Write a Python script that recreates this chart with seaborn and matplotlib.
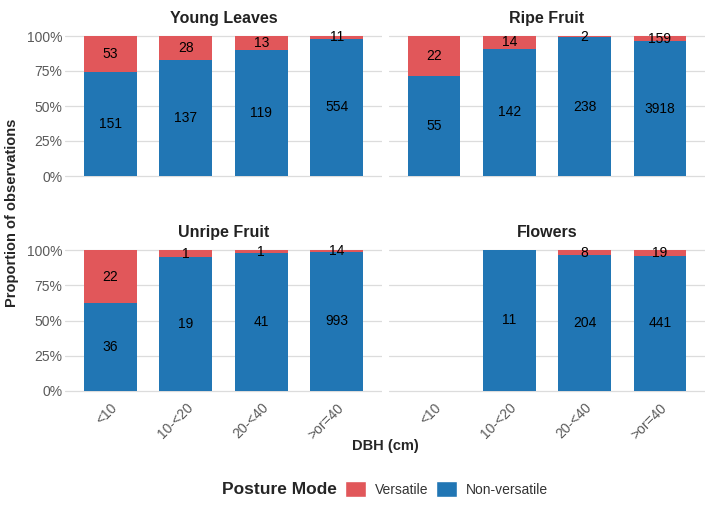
import pandas as pd
import seaborn as sns
import matplotlib.pyplot as plt
from matplotlib.patches import Patch
from matplotlib.offsetbox import HPacker

# data
dbh = ['<10', '10-<20', '20-<40', '>or=40']
foods = ['Young Leaves', 'Ripe Fruit', 'Unripe Fruit', 'Flowers']
versatile = {
    'Young Leaves': [53, 28, 13, 11],
    'Ripe Fruit': [22, 14, 2, 159],
    'Unripe Fruit': [22, 1, 1, 14],
    'Flowers': [None, 0, 8, 19],
}
non_versatile = {
    'Young Leaves': [151, 137, 119, 554],
    'Ripe Fruit': [55, 142, 238, 3918],
    'Unripe Fruit': [36, 19, 41, 993],
    'Flowers': [None, 11, 204, 441],
}

col_vers = '#E1575A'
col_non = '#2176B4'

rows = []
for f in foods:
    for i, d in enumerate(dbh):
        v = versatile[f][i]
        n = non_versatile[f][i]
        if v is None:
            continue
        tot = v + n
        rows.append({'food': f, 'dbh': d, 'vers': v, 'non': n,
                     'p_non': n / tot, 'p_all': 1.0})
df = pd.DataFrame(rows)

sns.set_theme(style='whitegrid')
plt.rcParams['font.family'] = ['Liberation Sans', 'DejaVu Sans']

fig = plt.figure(figsize=(7.09, 5.05), dpi=100)

W, H = 709, 505
panels = {
    'Young Leaves': (65, 29, 382, 183),
    'Ripe Fruit': (389, 29, 705, 183),
    'Unripe Fruit': (65, 243, 382, 398),
    'Flowers': (389, 243, 705, 398),
}

for k, f in enumerate(foods):
    x0, y0, x1, y1 = panels[f]
    ax = fig.add_axes([x0 / W, 1 - y1 / H, (x1 - x0) / W, (y1 - y0) / H])
    sub = df[df['food'] == f]
    sns.barplot(data=sub, x='dbh', y='p_all', order=dbh, color=col_vers,
                width=0.7, saturation=1, ax=ax, errorbar=None, linewidth=0)
    sns.barplot(data=sub, x='dbh', y='p_non', order=dbh, color=col_non,
                width=0.7, saturation=1, ax=ax, errorbar=None, linewidth=0)
    # count labels, centred in each stack segment
    for _, r in sub.iterrows():
        xi = dbh.index(r['dbh'])
        ax.text(xi, r['p_non'] / 2, str(r['non']), ha='center', va='center',
                fontsize=10, color='black')
        if r['vers'] > 0:
            ax.text(xi, r['p_non'] + (1 - r['p_non']) / 2, str(r['vers']),
                    ha='center', va='center', fontsize=10, color='black')
    ax.set_xlim(-0.6, 3.6)
    ax.set_ylim(-0.05, 1.05)
    ax.set_yticks([0, 0.25, 0.5, 0.75, 1.0])
    ax.grid(axis='x', visible=False)
    ax.grid(axis='y', color='#DCDCDC', linewidth=0.9)
    ax.set_axisbelow(True)
    for s in ax.spines.values():
        s.set_visible(False)
    ax.set_xlabel('')
    ax.set_ylabel('')
    ax.tick_params(length=0, pad=2)
    if k % 2 == 0:
        ax.set_yticklabels(['0%', '25%', '50%', '75%', '100%'], fontsize=10,
                           color='#5A5A5A')
    else:
        ax.set_yticklabels([])
    if k < 2:
        ax.set_xticklabels([])
    else:
        ax.set_xticks(range(4))
        ax.set_xticklabels(dbh, rotation=45, ha='right', rotation_mode='anchor',
                           fontsize=10, color='#5A5A5A')
    ax.set_title(f, fontsize=11.5, fontweight='bold', color='#222222', pad=4)

fig.text(12 / W, 1 - 213 / H, 'Proportion of observations', rotation=90,
         ha='center', va='center', fontsize=10.5, fontweight='bold')
fig.text(385 / W, 1 - 446 / H, 'DBH (cm)', ha='center', va='center',
         fontsize=10.5, fontweight='bold')

handles = [Patch(facecolor=col_vers, label='Versatile'),
           Patch(facecolor=col_non, label='Non-versatile')]
leg = fig.legend(handles=handles, loc='center', bbox_to_anchor=(385 / W, 1 - 489 / H),
                 ncol=2, frameon=False, title='Posture Mode', fontsize=10,
                 handlelength=1.5, handleheight=1.5, columnspacing=0.6,
                 handletextpad=0.6)
leg.get_title().set_fontweight('bold')
leg.get_title().set_fontsize(12.5)
# put title on the same row as the keys
box = leg._legend_box
box._children = [HPacker(children=box._children, align='center', pad=0, sep=6)]
for t in leg.get_texts():
    t.set_color('#333333')

fig.savefig('out.png', dpi=100)
